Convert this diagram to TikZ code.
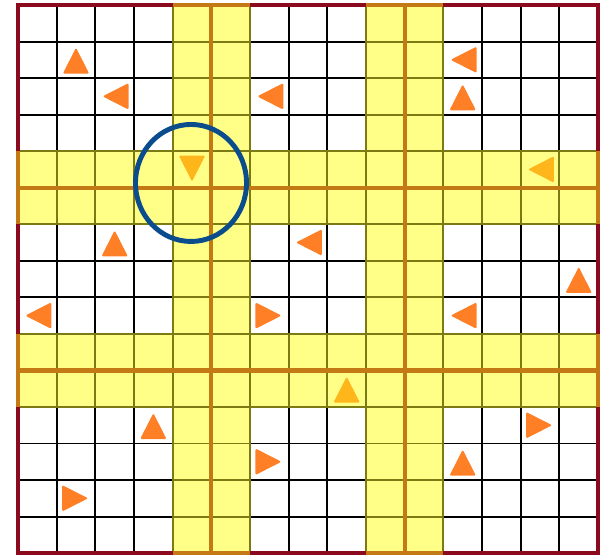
\documentclass[tikz,border=0pt]{standalone}
\usepackage{xcolor}
\usepackage{tikz}
\usetikzlibrary{shapes.geometric}
\definecolor{bandfill}{HTML}{FFFF88}
\definecolor{bandline}{HTML}{7C7A12}
\definecolor{bandmid}{HTML}{C47A14}
\definecolor{frame}{HTML}{8C0A1E}
\definecolor{hotfill}{HTML}{FF7F27}
\definecolor{warmfill}{HTML}{FFB61A}
\definecolor{ringblue}{HTML}{0B4D8C}

\begin{document}
\begin{tikzpicture}[
  x=0.7733cm, y=-0.7307cm,
  cellline/.style={draw=black, line width=1.1pt},
  bandline/.style={draw=bandline, line width=1.1pt},
  midline/.style={draw=bandmid, line width=2.4pt},
  frameline/.style={draw=frame, line width=2.4pt},
  tri/.style={isosceles triangle, isosceles triangle stretches, minimum width=0.53cm,
    minimum height=0.52cm, inner sep=0pt, rounded corners=0.8pt, anchor=apex},
  hot/.style={tri, fill=hotfill},
  warm/.style={tri, fill=warmfill},
  ring/.style={ellipse, draw=ringblue, line width=2.8pt, minimum width=2.22cm, minimum height=2.34cm},
]
\useasboundingbox (-0.4655,-0.1369) rectangle (15.18,15.056);

% the two row bands and the two column bands
\foreach \a in {4,9} {
  \fill[bandfill] (\a,0) rectangle (\a+2,15);
  \fill[bandfill] (0,\a) rectangle (15,\a+2);
}

% plain grid
\foreach \i in {0,...,15} {
  \draw[cellline] (\i,0) -- (\i,15);
  \draw[cellline] (0,\i) -- (15,\i);
}

% grid lines inside the bands
\foreach \a in {4,9} {
  \foreach \i in {0,...,15} {
    \draw[bandline] (\a,\i) -- (\a+2,\i);
    \draw[bandline] (\i,\a) -- (\i,\a+2);
  }
  \foreach \k in {0,1,2} {
    \draw[bandline] (\a+\k,0) -- (\a+\k,15);
    \draw[bandline] (0,\a+\k) -- (15,\a+\k);
  }
}

\draw[frameline] (0,0) rectangle (15,15);

% band centre lines and band ends
\foreach \a in {4,9} {
  \draw[midline] (\a+1,0) -- (\a+1,15);
  \draw[midline] (0,\a+1) -- (15,\a+1);
  \draw[midline] (\a,0) -- (\a+2,0);
  \draw[midline] (\a,15) -- (\a+2,15);
  \draw[midline] (0,\a) -- (0,\a+2);
  \draw[midline] (15,\a) -- (15,\a+2);
}

% arrows: column / row / border rotation / style
\foreach \c/\r/\rot/\kind [count=\n] in {
  1/1/90/hot, 11/1/180/hot, 2/2/180/hot, 6/2/180/hot, 11/2/90/hot,
  4/4/270/warm, 13/4/180/warm, 2/6/90/hot, 7/6/180/hot, 14/7/90/hot,
  0/8/180/hot, 6/8/0/hot, 11/8/180/hot, 8/10/90/warm, 3/11/90/hot,
  13/11/0/hot, 6/12/0/hot, 11/12/90/hot, 1/13/0/hot}
  \node[\kind, shape border rotate=\rot, shift={(\rot:0.26cm)}] (arrow\n) at (\c+0.5,\r+0.5) {};

\node[ring] (focus) at (4.474,4.87) {};
\end{tikzpicture}
\end{document}
